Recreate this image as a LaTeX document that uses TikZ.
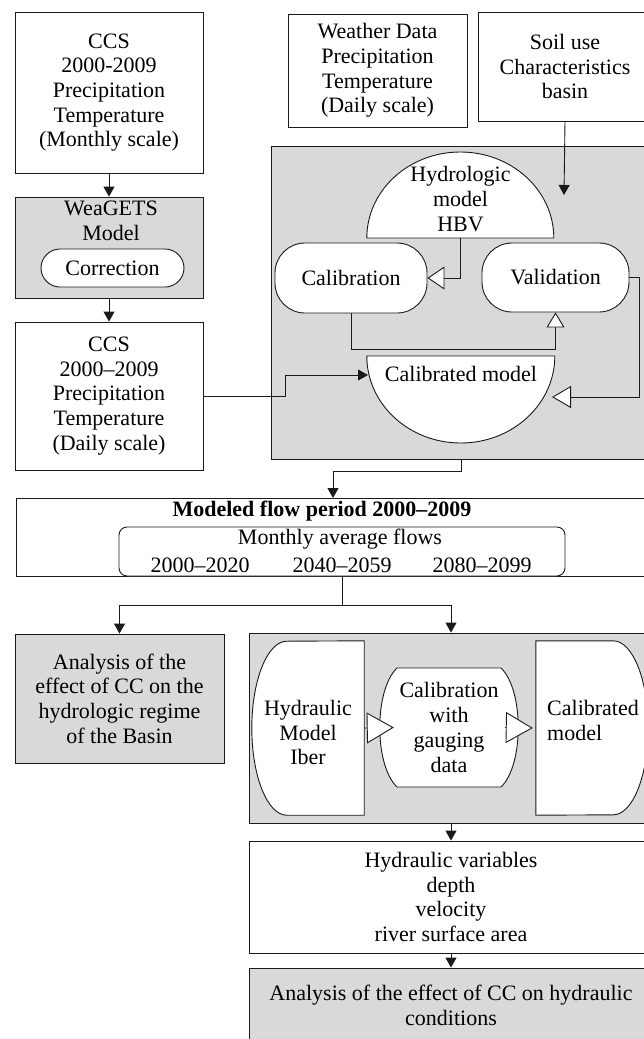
\documentclass[tikz,border=0pt]{standalone}
\usepackage{fontspec}
\setmainfont{Liberation Serif}
\usetikzlibrary{arrows.meta}
\definecolor{boxgray}{HTML}{D9D9D9}
\definecolor{linecol}{HTML}{1A1A1A}
\tikzset{
  every node/.style={font=\fontsize{22}{24.7}\selectfont, inner sep=0pt, align=center},
  box/.style={draw=linecol, line width=0.9pt, fill=white},
  graybox/.style={draw=linecol, line width=0.9pt, fill=boxgray},
  arr/.style={draw=linecol, line width=0.9pt, -{Triangle[width=11pt,length=10pt]}},
  warrA/.style={draw=linecol, line width=0.9pt, -{Triangle[fill=white,width=23pt,length=17pt]}},
  warrB/.style={draw=linecol, line width=0.9pt, -{Triangle[fill=white,width=18pt,length=15pt]}},
  warrC/.style={draw=linecol, line width=0.9pt, -{Triangle[fill=white,width=22pt,length=19pt]}},
  warrD/.style={draw=linecol, line width=0.9pt, -{Triangle[fill=white,width=31pt,length=27pt]}},
  ghost/.style={inner sep=0pt}
}
\begin{document}
\begin{tikzpicture}[x=1pt,y=-1pt]
\path[use as bounding box] (0,0) rectangle (644,1039);
\clip (0,0) rectangle (644,1039);

% ---------- left column ----------
\node[box, minimum width=188pt, minimum height=161pt] (ccsM) at (109,92.5)
  {CCS\\2000-2009\\Precipitation\\Temperature\\(Monthly scale)};
\node[graybox, minimum width=188pt, minimum height=101pt] (wea) at (109,247.5) {};
\node (weaT) at (111,220.5) {WeaGETS\\Model};
\node[box, rounded corners=19pt, minimum width=143pt, minimum height=38pt] (corr) at (112.5,268) {Correction};
\node[box, minimum width=188pt, minimum height=148pt] (ccsD) at (109,396)
  {CCS\\2000--2009\\Precipitation\\Temperature\\(Daily scale)};

% ---------- top right ----------
\node[box, minimum width=179pt, minimum height=113pt] (weather) at (377.5,70.5)
  {Weather Data\\Precipitation\\Temperature\\(Daily scale)};
\node[box, minimum width=174pt, minimum height=109pt] (soil) at (565,66.5)
  {Soil use\\Characteristics\\basin};

% ---------- HBV block ----------
\node[graybox, minimum width=390pt, minimum height=313pt] (hbvbox) at (466,302.5) {};
\node[ghost, minimum width=187pt, minimum height=86pt, anchor=south] (hbv) at (460.5,238) {};
\draw[box] (hbv.south west) arc[start angle=180, end angle=0, x radius=93.5pt, y radius=86pt] -- cycle;
\node (hbvT) at (460.5,199) {Hydrologic\\model\\HBV};
\node[box, rounded corners=30pt, minimum width=152pt, minimum height=70pt] (calib) at (351,278) {Calibration};
\node[box, rounded corners=30pt, minimum width=147pt, minimum height=69pt] (valid) at (555.5,277.5) {Validation};
\node[ghost, minimum width=188pt, minimum height=87pt, anchor=north] (calmod) at (461,356) {};
\draw[box] (calmod.north west) arc[start angle=180, end angle=360, x radius=94pt, y radius=87pt] -- cycle;
\node (calmodT) at (461,374) {Calibrated model};
\coordinate (cmIn) at (368,375);
\coordinate (cmR) at (552,397);
\coordinate (soilIn) at (564,195);

\draw[arr] (ccsM.south) -- (wea.north);
\draw[arr] (wea.south) -- (ccsD.north);
\draw[arr] (ccsD.east) -- (285,396) |- (cmIn);
\draw[arr] (soil.south) -- (soilIn);
\draw[warrA] (hbv.south) |- (calib.east);
\draw[warrB] (calib.south) -- ++(0,36) -| (valid.south);
\draw[warrC] (valid.east) -- (639,277.5) |- (cmR);

% ---------- modeled flow ----------
\node[box, minimum width=644pt, minimum height=78pt, anchor=north west] (modeled) at (16,498) {};
\node (mfT) at (322,511) {\bfseries Modeled flow period 2000–2009};
\node[box, rounded corners=8pt, minimum width=446pt, minimum height=49pt] (monthly) at (342,551.5) {};
\node (mafl) at (340,539) {Monthly average flows};
\node (yA) at (200,565) {2000–2020};
\node (yB) at (342,565) {2040–2059};
\node (yC) at (482,565) {2080–2099};
\coordinate (mfIn) at (333,498);
\draw[arr] ([xshift=-5pt]hbvbox.south) -- ++(0,12) -| (mfIn);

% ---------- lower part ----------
\node[graybox, minimum width=209pt, minimum height=129pt] (analysis) at (119.5,698.5)
  {Analysis of the\\effect of CC on the\\hydrologic regime\\of the Basin};
\node[graybox, minimum width=404pt, minimum height=190pt] (hydbox) at (451,728) {};
\draw[arr] (monthly.south) -- ++(0,29) -| (analysis.north);
\draw[arr] (monthly.south) -- ++(0,29) -| (hydbox.north);

\node[ghost, minimum width=112pt, minimum height=174pt] (iber) at (308,728) {};
\draw[box] (iber.north east) -- (iber.south east) -- ([xshift=35pt]iber.south west)
  arc[start angle=270, end angle=90, x radius=35pt, y radius=87pt] -- cycle;
\node (iberT) at (308,732.5) {Hydraulic\\Model\\Iber};

\node[ghost, minimum width=142pt, minimum height=119pt] (calg) at (449,727.5) {};
\draw[box] (397,668) -- (501,668) .. controls (524,690) and (524,765) .. (501,787)
  -- (397,787) .. controls (374,765) and (374,690) .. (397,668) -- cycle;
\node (calgT) at (449,727.5) {Calibration\\with\\gauging\\data};

\node[ghost, minimum width=112pt, minimum height=174pt] (cm2) at (592,728) {};
\draw[box] (cm2.north west) -- ([xshift=-35pt]cm2.north east)
  arc[start angle=90, end angle=-90, x radius=35pt, y radius=87pt] -- (cm2.south west) -- cycle;
\node[anchor=west, align=left] (cm2T) at (547,720.5) {Calibrated\\model};

\draw[warrD] (iber.east) -- ([xshift=16pt]calg.west);
\draw[warrD] ([xshift=-15pt]calg.east) -- ([xshift=-3pt]cm2.west);

\node[box, minimum width=404pt, minimum height=112pt] (hvars) at (451,897)
  {Hydraulic variables\\depth\\velocity\\river surface area};
\node[graybox, minimum width=404pt, minimum height=74pt] (final) at (451,1005)
  {Analysis of the effect of CC on hydraulic\\conditions};
\draw[arr] (hydbox.south) -- (hvars.north);
\draw[arr] (hvars.south) -- (final.north);
\end{tikzpicture}
\end{document}
